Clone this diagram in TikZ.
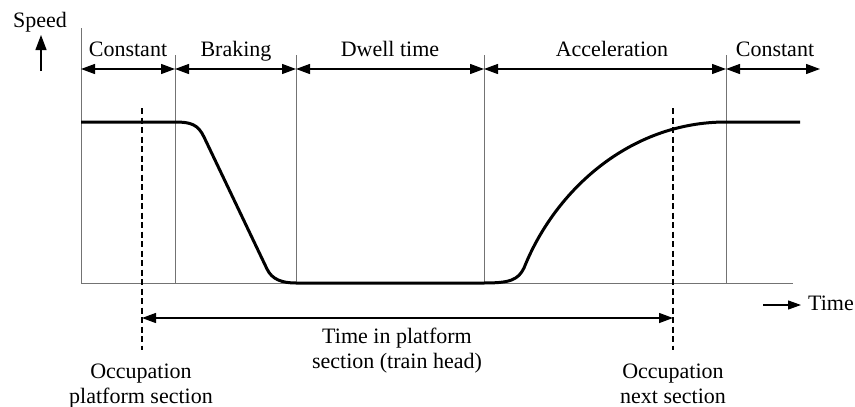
\documentclass[tikz,border=0pt]{standalone}
\usepackage{fontspec}
\setmainfont{Liberation Serif}
\usetikzlibrary{arrows.meta}
\begin{document}
\begin{tikzpicture}[x=1pt,y=-1pt,
  lbl/.style={font=\fontsize{22}{25}\selectfont, inner sep=0pt, anchor=base},
  guide/.style={draw=black!55, line width=1pt},
  span/.style={line width=1.3pt, {Triangle[length=14pt,width=10pt]}-{Triangle[length=14pt,width=10pt]}},
  occline/.style={line width=1.2pt, dash pattern=on 6pt off 3.5pt},
  axisarrow/.style={line width=1.2pt},
  speedline/.style={line width=3pt, line join=round}
]
\useasboundingbox (0,0) rectangle (855,407);

% phase boundaries on the time axis
\coordinate (b0) at (81,69);
\coordinate (b1) at (175,69);
\coordinate (b2) at (296,69);
\coordinate (b3) at (484,69);
\coordinate (b4) at (726,69);
\coordinate (b5) at (820,69);

% axes
\coordinate (ytop) at (81,28);
\coordinate (xend) at (793,283.5);
\draw[guide] (ytop) |- (xend);

% vertical phase separators
\foreach \x in {175,296,484,726}
  \draw[guide] (\x,55) -- (\x,283.5);

% phase spans
\draw[span] (b0) -- (b1);
\draw[span] (b1) -- (b2);
\draw[span] (b2) -- (b3);
\draw[span] (b3) -- (b4);
\draw[span] (b4) -- (b5);

\node[lbl] (pc1) at (128,56) {Constant};
\node[lbl] (pbr) at (236,56) {Braking};
\node[lbl] (pdw) at (390,56) {Dwell time};
\node[lbl] (pac) at (612,56) {Acceleration};
\node[lbl] (pc2) at (775,56) {Constant};

% axis captions
\node[lbl] (speed) at (40,27) {Speed};
\coordinate (sp0) at (41,71);
\coordinate (sp1) at (41,35);
\draw[axisarrow, -{Triangle[length=15pt,width=11pt]}] (sp0) -- (sp1);

\coordinate (tm0) at (763,305);
\coordinate (tm1) at (801,305);
\draw[axisarrow, -{Triangle[length=13pt,width=9pt]}] (tm0) -- (tm1);
\node[lbl, anchor=base west] (time) at (808,310) {Time};

% speed profile
\draw[speedline] (81,122) -- (175,122)
  .. controls (191,122) and (198,124.5) .. (204,137)
  -- (267,269)
  .. controls (272,279.5) and (282,283) .. (296,283)
  -- (484,283)
  .. controls (510,283) and (518,280) .. (524,268)
  .. controls (555,190) and (630,122) .. (726,122)
  -- (800,122);

% section occupation instants
\coordinate (o1t) at (142,108);
\coordinate (o1b) at (142,350);
\coordinate (o2t) at (673,108);
\coordinate (o2b) at (673,350);
\draw[occline] (o1t) -- (o1b);
\draw[occline] (o2t) -- (o2b);

\coordinate (p1) at (142,318);
\coordinate (p2) at (673,318);
\draw[span] (p1) -- (p2);

\node[lbl] (tip) at (397,343)
  {\begin{tabular}[t]{@{}c@{}}Time in platform\\section (train head)\end{tabular}};
\node[lbl] (occ1) at (141,378)
  {\begin{tabular}[t]{@{}c@{}}Occupation\\platform section\end{tabular}};
\node[lbl] (occ2) at (673,378)
  {\begin{tabular}[t]{@{}c@{}}Occupation\\next section\end{tabular}};
\end{tikzpicture}
\end{document}
